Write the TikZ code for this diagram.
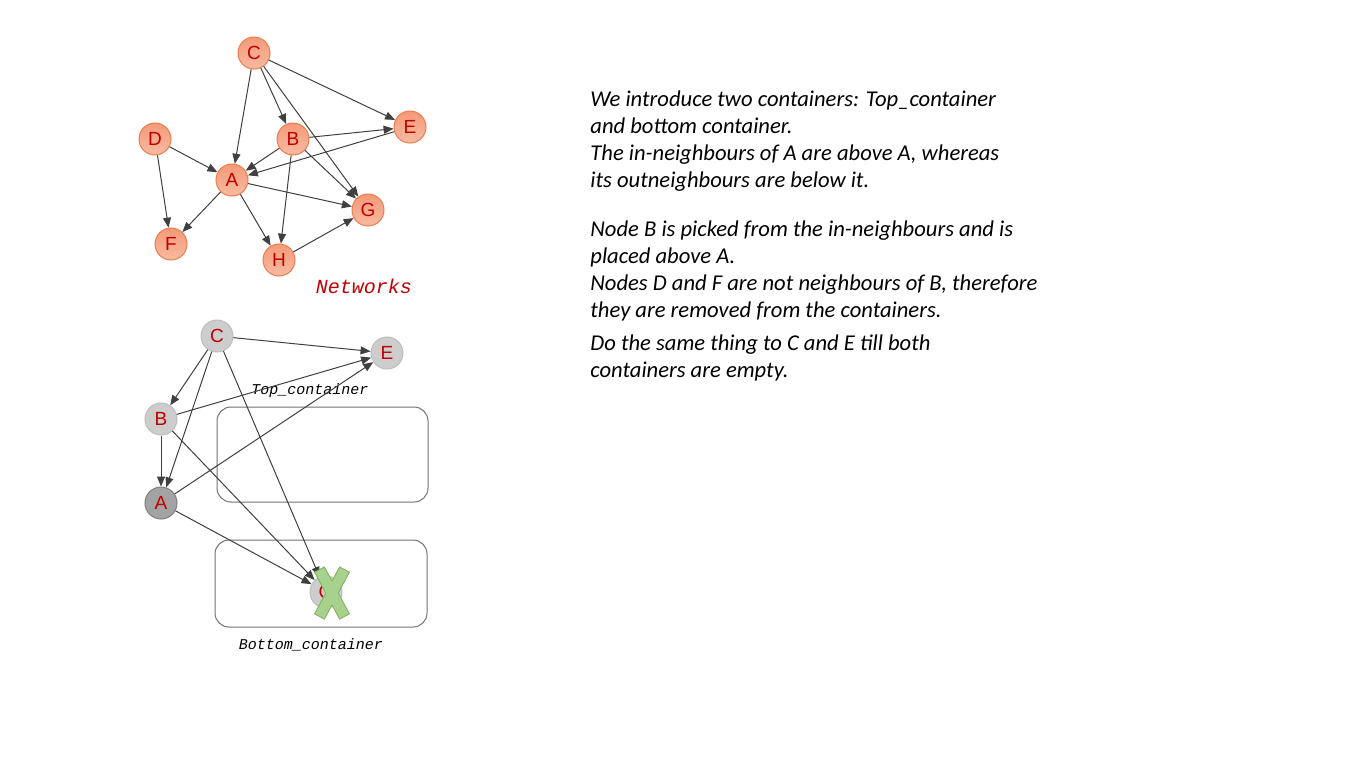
\documentclass[tikz,border=0pt]{standalone}
\usepackage{fontspec}
\setmainfont{Carlito}
\newfontfamily\nodefont{Liberation Sans}
\newfontfamily\codefont{Liberation Mono}
\usetikzlibrary{arrows.meta,positioning}
\definecolor{netfill}{HTML}{F7A98A}
\definecolor{netfilltop}{HTML}{F49A78}
\definecolor{netline}{HTML}{EC7C4A}
\definecolor{lblred}{HTML}{C00000}
\definecolor{grayfill}{HTML}{CDCDCD}
\definecolor{grayline}{HTML}{BDBDBD}
\definecolor{darkfill}{HTML}{A3A3A3}
\definecolor{darkline}{HTML}{7F7F7F}
\definecolor{xfill}{HTML}{A9D18E}
\definecolor{xline}{HTML}{7DB55A}
\tikzset{
	vtx/.style={circle,minimum size=16pt,inner sep=0pt,
		font=\nodefont\fontsize{9.5pt}{9.5pt}\selectfont,text=lblred},
	net vtx/.style={vtx,draw=netline,line width=.5pt,
		top color=netfilltop,bottom color=netfill!80!white},
	box vtx/.style={vtx,draw=grayline,line width=.5pt,fill=grayfill},
	cur vtx/.style={vtx,draw=darkline,line width=.5pt,fill=darkfill},
	ar/.style={draw=black!75,line width=.5pt,-{Triangle[length=5pt,width=4pt]}},
	container/.style={draw=black!55,line width=.5pt,rounded corners=7pt},
	code label/.style={font=\codefont\itshape\fontsize{7.5pt}{7.5pt}\selectfont},
	xbar/.style={fill=xfill,minimum width=5pt,minimum height=26pt,inner sep=0pt},
	xbar rim/.style={xbar,draw=xline,line width=1pt},
	note/.style={anchor=north west,align=left,inner sep=0pt,
		font=\itshape\fontsize{11.3pt}{13.5pt}\selectfont}
}

\begin{document}
\begin{tikzpicture}[x=.5pt,y=-.5pt]
	\useasboundingbox[fill=white] (0,0) rectangle (1366,768);
	% networks
	\node[net vtx] (nC) at (254,53) {C};
	\node[net vtx] (nD) at (155,139) {D};
	\node[net vtx] (nB) at (293,139) {B};
	\node[net vtx] (nE) at (410,127) {E};
	\node[net vtx] (nA) at (232,180) {A};
	\node[net vtx] (nG) at (368,210) {G};
	\node[net vtx] (nF) at (171,244) {F};
	\node[net vtx] (nH) at (279,260) {H};
	\foreach \s/\t in {C/A,C/B,C/G,C/E,D/A,D/F,B/A,B/E,B/G,B/H,E/A,A/F,A/H,A/G,H/G}
		\draw[ar] (n\s) -- (n\t);
	\node[code label,text=lblred,font=\codefont\itshape\fontsize{10pt}{10pt}\selectfont]
		(netlbl) at (364,286) {Networks};
	% containers
	\node[container,minimum width=105.5pt,minimum height=47.5pt] (top) at (322.5,454.5) {};
	\node[container,minimum width=106pt,minimum height=43.5pt] (bot) at (321,583.5) {};
	\node[code label] (toplbl) at (310,391) {Top\_container};
	\node[code label] (botlbl) at (311,645) {Bottom\_container};
	\node[box vtx] (cC) at (217,336) {C};
	\node[box vtx] (cE) at (387,353) {E};
	\node[box vtx] (cB) at (161,419) {B};
	\node[cur vtx] (cA) at (161,503) {A};
	\node[box vtx] (cG) at (326,592) {G};
	\foreach \s/\t in {C/E,C/B,C/A,C/G,B/E,B/A,B/G,A/E,A/G}
		\draw[ar] (c\s) -- (c\t);
	% cross over G
	\node[xbar rim,rotate=28] (x1) at (332,593) {};
	\node[xbar rim,rotate=-28] (x2) at (332,593) {};
	\node[xbar,rotate=28] at (x1) {};
	\node[xbar,rotate=-28] at (x2) {};
	% notes
	\node[note] (p1) at (590,90) {We introduce two containers: Top\_container\\
		and bottom container.\\The in-neighbours of A are above A, whereas\\
		its outneighbours are below it.};
	\node[note] (p2) at (590,220) {Node B is picked from the in-neighbours and is\\
		placed above A.\\Nodes D and F are not neighbours of B, therefore\\
		they are removed from the containers.};
	\node[note] (p3) at (590,334) {Do the same thing to C and E till both\\
		containers are empty.};
\end{tikzpicture}
\end{document}
